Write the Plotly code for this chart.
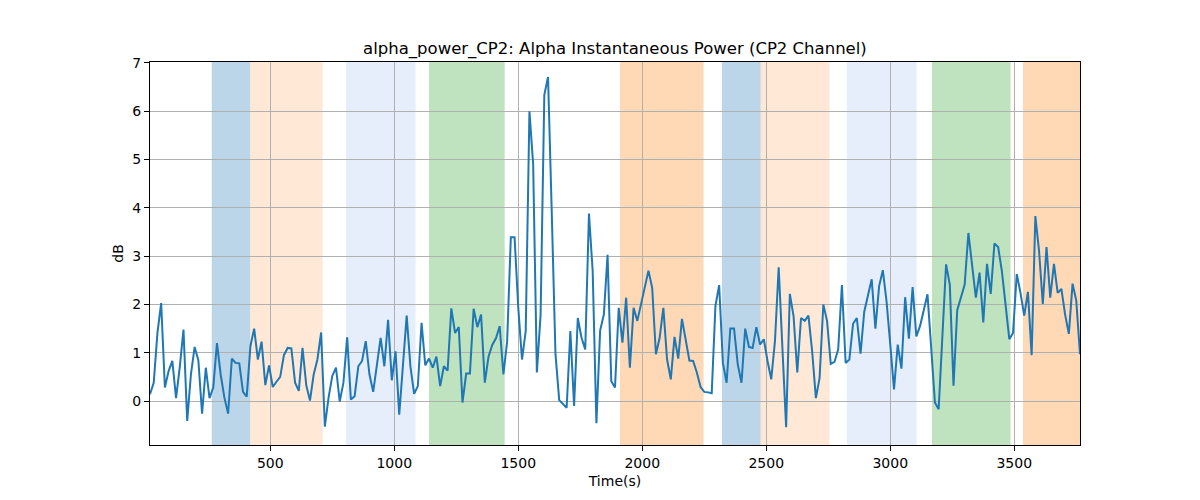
import plotly.graph_objects as go

# Sample times (s) and alpha power (dB)
times = list(range(15, 3766, 15))
power_db = [
    0.14, 0.38, 1.41, 2.03, 0.28, 0.62, 0.83, 0.06, 0.70, 1.48,
    -0.41, 0.55, 1.12, 0.84, -0.26, 0.69, 0.06, 0.28, 1.20, 0.55,
    0.07, -0.26, 0.88, 0.79, 0.78, 0.19, 0.09, 1.14, 1.50, 0.86,
    1.23, 0.33, 0.74, 0.29, 0.40, 0.50, 0.95, 1.10, 1.09, 0.38,
    0.21, 1.10, 0.33, 0.01, 0.55, 0.86, 1.42, -0.53, 0.07, 0.52,
    0.69, -0.01, 0.38, 1.32, 0.03, 0.10, 0.72, 0.83, 1.24, 0.55,
    0.19, 0.79, 1.31, 0.72, 1.68, 0.43, 1.03, -0.28, 0.75, 1.77,
    0.72, 0.15, 0.31, 1.62, 0.74, 0.88, 0.69, 0.92, 0.31, 0.72,
    0.63, 1.92, 1.41, 1.53, -0.03, 0.57, 0.57, 1.91, 1.53, 1.79,
    0.38, 0.92, 1.16, 1.30, 1.55, 0.55, 1.23, 3.39, 3.39, 1.93,
    0.86, 1.45, 6.00, 4.90, 0.59, 1.79, 6.34, 6.71, 3.90, 0.97,
    0.02, -0.06, -0.14, 1.45, -0.10, 1.72, 1.31, 1.07, 3.88, 2.69,
    -0.46, 1.46, 1.79, 3.03, 0.41, 0.28, 1.93, 1.21, 2.14, 0.69,
    1.93, 1.66, 2.00, 2.41, 2.70, 2.34, 0.97, 1.31, 1.93, 0.86,
    0.45, 1.33, 0.88, 1.70, 1.28, 0.84, 0.83, 0.59, 0.29, 0.19,
    0.18, 0.16, 1.97, 2.40, 0.79, 0.38, 1.50, 1.50, 0.76, 0.38,
    1.50, 1.12, 1.10, 1.53, 1.17, 1.28, 0.83, 0.45, 1.24, 2.77,
    1.10, -0.54, 2.22, 1.76, 0.59, 1.72, 1.66, 1.77, 1.03, 0.06,
    0.48, 2.00, 1.66, 0.77, 0.81, 1.07, 2.40, 0.79, 0.86, 1.60,
    1.72, 0.98, 1.85, 2.22, 2.52, 1.50, 2.38, 2.71, 2.06, 1.17,
    0.24, 1.17, 0.67, 2.15, 1.29, 2.36, 1.34, 1.55, 1.88, 2.21,
    1.10, -0.03, -0.17, 1.20, 2.83, 2.41, 0.32, 1.88, 2.14, 2.41,
    3.48, 2.83, 2.14, 2.66, 1.63, 2.84, 2.22, 3.26, 3.19, 2.69,
    1.93, 1.28, 1.41, 2.63, 2.24, 1.77, 2.26, 0.95, 3.83, 3.10,
    2.01, 3.19, 2.14, 2.84, 2.24, 2.32, 1.79, 1.39, 2.43, 2.08,
    0.97,
]

# Shaded stimulus intervals (start, end, colour)
span_starts = [264, 419, 805, 1140, 1910, 2321, 2477, 2825, 3168, 3535]
span_ends = [419, 711, 1086, 1445, 2247, 2477, 2755, 3106, 3485, 3800]
span_colors = [
    "rgba(31,119,180,0.3)", "rgba(255,127,14,0.17)", "rgba(100,149,237,0.16)",
    "rgba(44,160,44,0.3)", "rgba(255,127,14,0.3)", "rgba(31,119,180,0.3)",
    "rgba(255,127,14,0.17)", "rgba(100,149,237,0.16)", "rgba(44,160,44,0.3)",
    "rgba(255,127,14,0.3)",
]

fig = go.Figure()
fig.add_trace(go.Scatter(
    x=times, y=power_db, mode="lines",
    line=dict(color="#1f77b4", width=2),
    showlegend=False,
))

for x0, x1, c in zip(span_starts, span_ends, span_colors):
    fig.add_vrect(x0=x0, x1=x1, fillcolor=c, line_width=0, layer="below")

axis_style = dict(
    showline=True, linecolor="black", linewidth=1, mirror=True,
    ticks="outside", ticklen=5, tickcolor="black",
    showgrid=True, gridcolor="#b0b0b0", gridwidth=1,
    zeroline=False, tickfont=dict(size=14, color="black"),
    automargin=False,
)

# the page body adds an 8px offset, so margins are shifted to compensate
fig.update_layout(
    width=1200, height=500,
    margin=dict(l=142, r=128, t=54, b=63),
    paper_bgcolor="white", plot_bgcolor="white",
    font=dict(family="DejaVu Sans", color="black"),
    title=dict(
        text="alpha_power_CP2: Alpha Instantaneous Power (CP2 Channel)",
        x=0.5058, xanchor="center", y=0.919, yanchor="middle",
        font=dict(size=16.5),
    ),
    xaxis=dict(
        axis_style, range=[15, 3765],
        tickvals=[500, 1000, 1500, 2000, 2500, 3000, 3500],
        title=dict(text="Time(s)", font=dict(size=14), standoff=6),
    ),
    yaxis=dict(
        axis_style, range=[-0.91, 7.02],
        tickvals=[0, 1, 2, 3, 4, 5, 6, 7],
        title=dict(text="dB", font=dict(size=14), standoff=5),
    ),
)

fig.write_html("out.html")
